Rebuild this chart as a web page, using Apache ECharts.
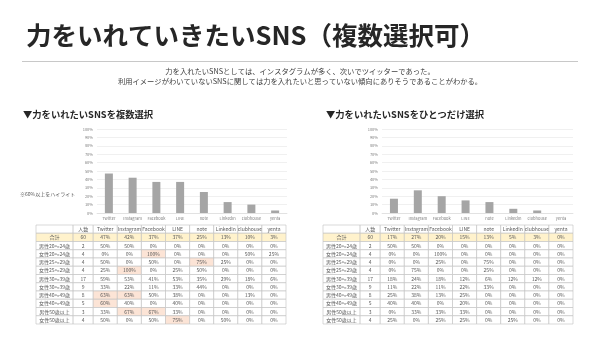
<!DOCTYPE html>
<html><head><meta charset="utf-8">
<script src="https://cdn.jsdelivr.net/npm/echarts@6/dist/echarts.min.js"></script>
<style>html,body{margin:0;padding:0;background:#fff}#c{width:600px;height:337px}</style>
</head><body><div id="c"></div>
<script>
// ---- data ----
const snsNames = ['Twitter','Instagram','Facebook','LINE','note','LinkedIn','clubhouse','yenta'];
const groupLabels = ['合計','男性20～24歳','女性20～24歳','男性25～29歳','女性25～29歳','男性30～39歳','女性30～39歳','男性40～49歳','女性40～49歳','男性50歳以上','女性50歳以上'];
const respondents = [60,2,4,4,4,17,9,8,5,3,4];
const multiPct = [
  [47,42,37,37,25,13,10,3],
  [50,50,0,0,0,0,0,0],
  [0,0,100,0,0,0,50,25],
  [50,0,50,0,75,25,0,0],
  [25,100,0,25,50,0,0,0],
  [59,53,41,53,35,29,18,6],
  [33,22,11,33,44,0,0,0],
  [63,63,50,38,0,0,13,0],
  [60,40,0,40,0,0,0,0],
  [33,67,67,33,0,0,0,0],
  [50,0,50,75,0,50,0,0]
];
const singlePct = [
  [17,27,20,15,13,5,3,0],
  [50,50,0,0,0,0,0,0],
  [0,0,100,0,0,0,0,0],
  [0,0,25,0,75,0,0,0],
  [0,75,0,0,25,0,0,0],
  [18,24,18,12,6,12,12,0],
  [11,22,11,22,33,0,0,0],
  [25,38,13,25,0,0,0,0],
  [40,40,0,20,0,0,0,0],
  [0,33,33,33,0,0,0,0],
  [25,0,25,25,0,25,0,0]
];
const highlightThreshold = 60;

// ---- layout / style ----
const FONT = '"Noto Sans CJK JP","Noto Sans",sans-serif';
const colWidths = [37,20,24,24,24,24,24,24,24,24];
const edges = [0];
colWidths.forEach(w => edges.push(edges[edges.length-1] + w));
const nRows = groupLabels.length + 1;

function buildCells(pct, highlight) {
  const cells = [];
  ['', '人数'].concat(snsNames).forEach((t, c) => cells.push({value:[c,0], text:t, fill:'#ffffff'}));
  groupLabels.forEach((g, r) => {
    const row = r + 1;
    const base = r === 0 ? '#fff2cc' : '#ffffff';
    cells.push({value:[0,row], text:g, fill:base});
    cells.push({value:[1,row], text:String(respondents[r]), fill:base});
    pct[r].forEach((v, c) => cells.push({
      value:[c+2,row], text:v + '%',
      fill: (highlight && r > 0 && v >= highlightThreshold) ? '#fce4d6' : base
    }));
  });
  return cells;
}
function tableRender(cells) {
  return function (params, api) {
    const cell = cells[params.dataIndex];
    const c = api.value(0), r = api.value(1);
    const p0 = api.coord([edges[c], r]);
    const p1 = api.coord([edges[c+1], r+1]);
    return {type:'group', children:[
      {type:'rect', shape:{x:p0[0], y:p0[1], width:p1[0]-p0[0], height:p1[1]-p0[1]},
       style:{fill:cell.fill, stroke:'#bfbfbf', lineWidth:0.6}},
      {type:'text', style:{text:cell.text, x:(p0[0]+p1[0])/2, y:(p0[1]+p1[1])/2,
        align:'center', verticalAlign:'middle', fontSize:5, fill:'#595959', fontFamily:FONT}}
    ]};
  };
}
const multiCells = buildCells(multiPct, true);
const singleCells = buildCells(singlePct, false);

const barX = (gi) => ({type:'category', gridIndex:gi, data:snsNames,
  axisLine:{lineStyle:{color:'#d9d9d9', width:0.6}}, axisTick:{show:false},
  axisLabel:{interval:0, fontSize:4, color:'#7f7f7f', margin:3, fontFamily:FONT}});
const barY = (gi) => ({type:'value', gridIndex:gi, min:0, max:100, interval:10,
  axisLabel:{formatter:'{value}%', fontSize:4, color:'#7f7f7f', margin:4, fontFamily:FONT},
  splitLine:{lineStyle:{color:'#e6e6e6', width:0.6}}, axisLine:{show:false}, axisTick:{show:false}});
const tblX = (gi) => ({type:'value', gridIndex:gi, min:0, max:edges[edges.length-1], show:false});
const tblY = (gi) => ({type:'value', gridIndex:gi, min:0, max:nRows, inverse:true, show:false});

const chart = echarts.init(document.getElementById('c'), null, {renderer:'canvas'});
chart.setOption({
  animation:false,
  backgroundColor:'#ffffff',
  textStyle:{fontFamily:FONT},
  title:[
    {text:'力をいれていきたいSNS（複数選択可）', left:26, top:23, padding:0,
     textStyle:{fontSize:25.5, fontWeight:'bold', color:'#262626', fontFamily:FONT}},
    {text:'力を入れたいSNSとしては、インスタグラムが多く、次いでツイッターであった。', left:'center', top:68, padding:0,
     textStyle:{fontSize:7.3, fontWeight:'normal', color:'#404040', fontFamily:FONT}},
    {text:'利用イメージがわいていないSNSに関しては力を入れたいと思っていない傾向にありそうであることがわかる。', left:'center', top:78, padding:0,
     textStyle:{fontSize:7.3, fontWeight:'normal', color:'#404040', fontFamily:FONT}},
    {text:'▼力をいれたいSNSを複数選択', left:23, top:110, padding:0,
     textStyle:{fontSize:9.3, fontWeight:'bold', color:'#262626', fontFamily:FONT}},
    {text:'▼力をいれたいSNSをひとつだけ選択', left:326, top:110, padding:0,
     textStyle:{fontSize:9.3, fontWeight:'bold', color:'#262626', fontFamily:FONT}},
    {text:'※60%以上をハイライト', left:20, top:192, padding:0,
     textStyle:{fontSize:5, fontWeight:'normal', color:'#595959', fontFamily:FONT}}
  ],
  graphic:[
    {type:'line', shape:{x1:22, y1:61.5, x2:578, y2:61.5}, style:{stroke:'#c8c8c8', lineWidth:1.2}}
  ],
  grid:[
    {left:97, top:129, width:190, height:84},
    {left:382, top:129, width:191, height:84},
    {left:36, top:225, width:250, height:99},
    {left:323, top:225, width:250, height:99}
  ],
  xAxis:[barX(0), barX(1), tblX(2), tblX(3)],
  yAxis:[barY(0), barY(1), tblY(2), tblY(3)],
  series:[
    {type:'bar', xAxisIndex:0, yAxisIndex:0, data:multiPct[0], barWidth:8, itemStyle:{color:'#a5a5a5'}},
    {type:'bar', xAxisIndex:1, yAxisIndex:1, data:singlePct[0], barWidth:8, itemStyle:{color:'#a5a5a5'}},
    {type:'custom', xAxisIndex:2, yAxisIndex:2, data:multiCells.map(c => ({value:c.value})), renderItem:tableRender(multiCells)},
    {type:'custom', xAxisIndex:3, yAxisIndex:3, data:singleCells.map(c => ({value:c.value})), renderItem:tableRender(singleCells)}
  ]
});
</script></body></html>
